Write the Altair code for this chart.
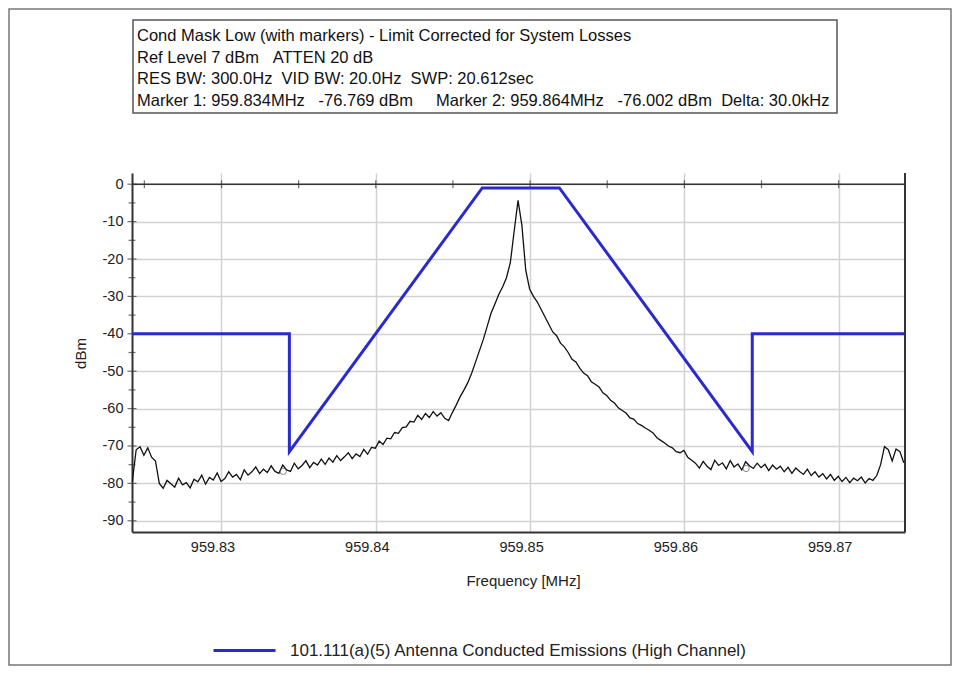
import altair as alt
import pandas as pd

# ---------------- data ----------------
X_DOMAIN = [959.8242, 959.8743]
Y_DOMAIN = [-93, 3]

SWEEP_START = 959.82422   # MHz, first sweep point
SWEEP_STEP = 0.00025      # MHz between sweep points
trace_dbm = [
    -79.5, -71, -70.2, -72.5, -70.5, -73, -74, -80, -81.3, -79.2,
    -80.1, -81, -78.6, -80.4, -79.8, -81.2, -78.9, -79.6, -77.8, -80.2,
    -78.4, -79.1, -77.2, -79.5, -78.7, -76.9, -78.3, -77.6, -79, -76.4,
    -77.8, -76.9, -75.6, -77.4, -76.2, -77.1, -75.3, -76.8, -77.3, -75.1,
    -76.4, -76.8, -74.6, -76.1, -75.2, -73.9, -75.8, -74.4, -75.1, -73.5,
    -74.9, -73.2, -74.3, -72.6, -73.9, -72.9, -71.8, -73.4, -72.1, -72.8,
    -70.9, -72.2, -70.4, -70.6, -68.7, -69.6, -67.9, -68.1, -66.4, -66.6,
    -65.1, -64.9, -63.4, -63.6, -61.8, -62.9, -61.3, -62.4, -60.8, -62,
    -61.1, -62.6, -63.2, -61, -59, -56.8, -55, -53, -50.5, -47.5,
    -44.5, -41.5, -38, -34.5, -32, -29.5, -27.5, -25, -21, -12.5,
    -4.3, -11, -23, -28, -30, -31.5, -33.5, -35.5, -37.5, -39.5,
    -40.5, -42.5, -43.5, -45, -46.8, -47.5, -49.2, -50.5, -51.2, -52.8,
    -53.5, -54.2, -55.8, -56.5, -57.8, -58.5, -59.8, -60.5, -61.2, -62.5,
    -62.8, -64, -64.5, -65.2, -65.8, -66.5, -67.8, -68.5, -69.2, -70,
    -70.5, -71.5, -71.8, -71.2, -73, -73.8, -74.6, -75.9, -74.1, -75.4,
    -76.3, -73.8, -75.2, -74.5, -76.1, -73.9, -75.6, -74.8, -76.4, -74.2,
    -75.3, -76, -74.6, -75.8, -74.9, -76.6, -75.1, -76.2, -75.4, -76.9,
    -75.7, -77.3, -75.9, -76.8, -77.6, -76.2, -77.9, -76.9, -78.3, -77.4,
    -78.8, -77.6, -79.2, -78.1, -79.5, -78.4, -79.8, -78.6, -79.3, -78.3,
    -79.9, -78.7, -79.2, -77.9, -75, -70.2, -71, -74, -70.8, -71.5,
    -74.5,
]
trace_freq = [round(SWEEP_START + SWEEP_STEP * i, 6) for i in range(len(trace_dbm))]

mask_name = "101.111(a)(5) Antenna Conducted Emissions (High Channel)"
mask_freq = [959.8242, 959.8344, 959.8344, 959.8469, 959.8519, 959.8644, 959.8644, 959.8743]
mask_dbm = [-40, -40, -71.5, -1, -1, -71.5, -40, -40]

marker_freq = [959.834, 959.864]
marker_dbm = [-76.769, -76.002]

x_tick_values = [959.83, 959.84, 959.85, 959.86, 959.87]
x_minor_values = [959.825, 959.83, 959.835, 959.84, 959.845, 959.85, 959.855,
                  959.86, 959.865, 959.87]
y_tick_values = [-90, -80, -70, -60, -50, -40, -30, -20, -10, 0]
y_minor_values = [-85, -75, -65, -55, -45, -35, -25, -15, -5]

header_lines = [
    "Cond Mask Low (with markers) - Limit Corrected for System Losses",
    "Ref Level 7 dBm   ATTEN 20 dB",
    "RES BW: 300.0Hz  VID BW: 20.0Hz  SWP: 20.612sec",
    "Marker 1: 959.834MHz   -76.769 dBm     Marker 2: 959.864MHz   -76.002 dBm  Delta: 30.0kHz",
]

# ---------------- layout ----------------
W, H = 773, 359
PAD = {"left": 124, "top": 165, "right": 47, "bottom": 134}
FONT = "Liberation Sans"
BLUE = "#2a2ad0"

trace_df = pd.DataFrame({"freq": trace_freq, "dbm": trace_dbm})
mask_df = pd.DataFrame({"freq": mask_freq, "dbm": mask_dbm, "series": [mask_name] * len(mask_freq)})
marker_df = pd.DataFrame({"freq": marker_freq, "dbm": marker_dbm})
xminor_df = pd.DataFrame({"freq": x_minor_values, "dbm": [0] * len(x_minor_values)})
ymajor_df = pd.DataFrame({"dbm": y_tick_values})
yminor_df = pd.DataFrame({"dbm": y_minor_values})
zero_df = pd.DataFrame({"dbm": [0]})
header_df = pd.DataFrame({"t": ["\n".join(l.replace(" ", "\u00a0") for l in header_lines)]})
one_df = pd.DataFrame({"k": [0]})

xs = alt.Scale(domain=X_DOMAIN, nice=False, zero=False)
ys = alt.Scale(domain=Y_DOMAIN, nice=False, zero=False)

x_axis = alt.Axis(values=x_tick_values, format=".2f", title="Frequency [MHz]", grid=True,
                  ticks=False, labelPadding=8, labelFontSize=14.5, labelOffset=-9,
                  labelOverlap=False, titleFontSize=15,
                  titleFontWeight="normal", titleY=48, titleX=391, titleBaseline="middle")
y_axis = alt.Axis(values=y_tick_values, title="dBm", grid=True, ticks=False, labelPadding=9,
                  labelFontSize=14.5, labelOverlap=False, labelBound=False,
                  labelExpr="toString(datum.value)",
                  titleFontSize=15, titleFontWeight="normal",
                  titleAngle=270, titleX=-52, titleY=180, titleAlign="center",
                  titleBaseline="middle")


def X(field="freq:Q"):
    return alt.X(field, scale=xs, axis=x_axis)


def Y(field="dbm:Q"):
    return alt.Y(field, scale=ys, axis=y_axis)


base_trace = alt.Chart(trace_df).mark_line(color="#111", strokeWidth=1.3).encode(x=X(), y=Y())

zero_line = alt.Chart(zero_df).mark_rule(color="#333", strokeWidth=1.5).encode(y=Y())

x_minor_ticks = alt.Chart(xminor_df).mark_tick(orient="vertical", size=8, thickness=1.2,
                                              color="#333").encode(x=X(), y=Y())
y_major_ticks = alt.Chart(ymajor_df).mark_tick(orient="horizontal", size=9, thickness=1.2,
                                              color="#333").encode(y=Y(), x=alt.value(0))
y_minor_ticks = alt.Chart(yminor_df).mark_tick(orient="horizontal", size=7, thickness=1.2,
                                              color="#333").encode(y=Y(), x=alt.value(0))

mask = alt.Chart(mask_df).mark_line(strokeWidth=3).encode(
    x=X(), y=Y(),
    color=alt.Color("series:N", scale=alt.Scale(domain=[mask_name], range=[BLUE]),
                    legend=alt.Legend(orient="none", legendX=80, legendY=445, title=None,
                                      symbolType="stroke", symbolSize=3844,
                                      symbolStrokeWidth=3, labelFontSize=17,
                                      labelOffset=13, padding=0, labelLimit=800)),
)

markers = alt.Chart(marker_df).mark_point(shape="circle", filled=False, size=40,
                                          color="#555", strokeWidth=1).encode(x=X(), y=Y())

right_border = alt.Chart(one_df).mark_rule(color="#333", strokeWidth=2).encode(
    x=alt.value(W), y=alt.value(0), y2=alt.value(H)
)

header_box = alt.Chart(one_df).mark_rect(fill="white", stroke="#555", strokeWidth=1.5).encode(
    x=alt.value(1), x2=alt.value(705), y=alt.value(-153), y2=alt.value(-60)
)
header_text = alt.Chart(header_df).mark_text(
    align="left", baseline="alphabetic", lineBreak="\n", lineHeight=21.7,
    fontSize=16.5, color="#111", font=FONT
).encode(text="t:N", x=alt.value(5), y=alt.value(-132))

outer_border = alt.Chart(one_df).mark_rect(fill=None, stroke="#777", strokeWidth=1.5).encode(
    x=alt.value(-PAD["left"] + 1), x2=alt.value(W + PAD["right"] - 1),
    y=alt.value(-PAD["top"] + 1), y2=alt.value(H + PAD["bottom"] - 1)
)

chart = alt.layer(
    base_trace, zero_line, x_minor_ticks, y_major_ticks, y_minor_ticks, mask, markers,
    right_border, header_box, header_text, outer_border
).properties(
    width=W, height=H, autosize=alt.AutoSizeParams(type="none"), padding=PAD
).configure_view(stroke=None).configure_axis(
    gridColor="#d2d2d2", gridWidth=1.5, domainColor="#333", domainWidth=2,
    labelFont=FONT, titleFont=FONT, labelColor="#222", titleColor="#222"
).configure_legend(labelFont=FONT, labelColor="#222").configure_text(font=FONT)

chart.save("out.html", embed_options={"renderer": "svg", "actions": False})
